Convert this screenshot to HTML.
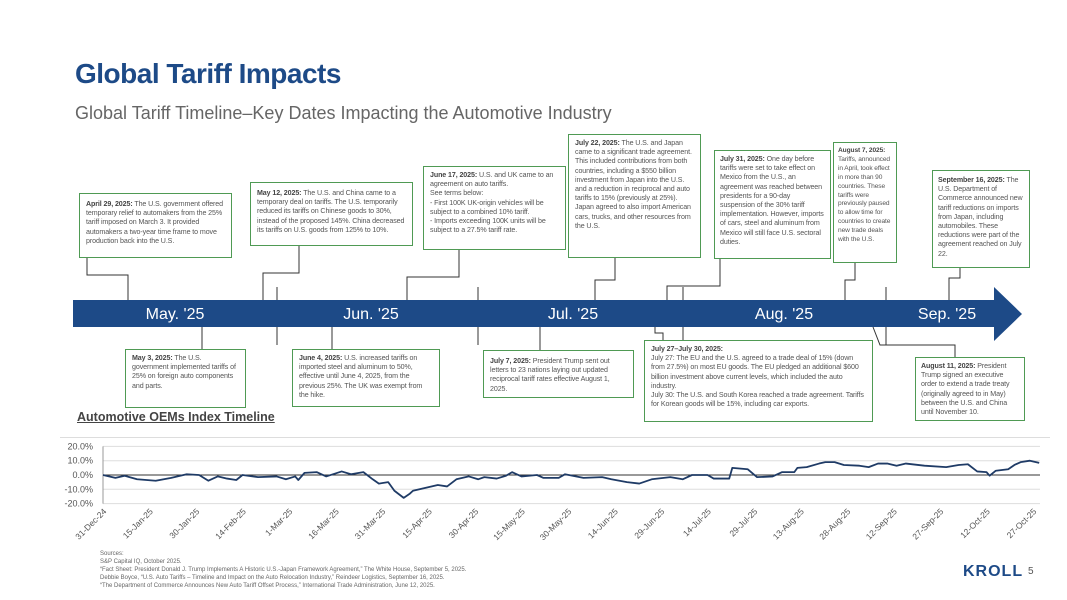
<!DOCTYPE html>
<html><head><meta charset="utf-8">
<style>
body{margin:0;width:1067px;height:600px;background:#fff;position:relative;overflow:hidden;font-family:"Liberation Sans",sans-serif;color:#555}
.abs{position:absolute}
h1{position:absolute;left:75px;top:58px;margin:0;font-size:28px;font-weight:bold;color:#1d4a87;letter-spacing:-0.5px}
.sub{left:75px;top:103px;font-size:18px;color:#666}
.box{position:absolute;border:1.3px solid #4f9a54;background:#fff;font-size:7.1px;line-height:9.2px;color:#555;padding:4px 6px;box-sizing:border-box;overflow:hidden;letter-spacing:-0.1px}
.box b{color:#444}
.src{left:100px;top:550px;font-size:6px;line-height:8px;color:#666}
</style></head><body>
<h1>Global Tariff Impacts</h1>
<div class="abs sub">Global Tariff Timeline–Key Dates Impacting the Automotive Industry</div>

<svg class="abs" style="left:0;top:0" width="1067" height="440">
<polygon points="73,300 994,300 994,287 1022,314 994,341 994,327 73,327" fill="#1d4a87"/>
<g fill="#fff" font-size="16" text-anchor="middle" font-family="Liberation Sans, sans-serif">
<text x="175" y="319">May. '25</text>
<text x="371" y="319">Jun. '25</text>
<text x="573" y="319">Jul. '25</text>
<text x="784" y="319">Aug. '25</text>
<text x="947" y="319">Sep. '25</text>
</g>
<g stroke="#333" stroke-width="1" fill="none">
<path d="M277,287V300M277,327V345M478,287V300M478,327V345M683,287V300M683,327V345M886,287V300M886,327V345"/>
<path d="M87,258V275H128V300"/>
<path d="M299,246V273H263V300"/>
<path d="M459,250V277H407V300"/>
<path d="M615,258V280H595V300"/>
<path d="M720,259V286H667V300"/>
<path d="M855,263V280H845V300"/>
<path d="M960,268V278H949V300"/>
<path d="M202,327V349"/>
<path d="M332,327V349"/>
<path d="M540,327V350"/>
<path d="M655,327V333H663V340"/>
<path d="M873,327L880,345H955V357"/>
</g>
</svg>

<div class="box" style="left:79px;top:193px;width:153px;height:65px;padding-top:6px"><b>April 29, 2025:</b> The U.S. government offered temporary relief to automakers from the 25% tariff imposed on March 3. It provided automakers a two-year time frame to move production back into the U.S.</div>
<div class="box" style="left:250px;top:182px;width:163px;height:64px;padding-top:6px"><b>May 12, 2025:</b> The U.S. and China came to a temporary deal on tariffs. The U.S. temporarily reduced its tariffs on Chinese goods to 30%, instead of the proposed 145%. China decreased its tariffs on U.S. goods from 125% to 10%.</div>
<div class="box" style="left:423px;top:166px;width:143px;height:84px"><b>June 17, 2025:</b> U.S. and UK came to an agreement on auto tariffs.<br>See terms below:<br>- First 100K UK-origin vehicles will be subject to a combined 10% tariff.<br>- Imports exceeding 100K units will be subject to a 27.5% tariff rate.</div>
<div class="box" style="left:568px;top:134px;width:133px;height:124px"><b>July 22, 2025:</b> The U.S. and Japan came to a significant trade agreement. This included contributions from both countries, including a $550 billion investment from Japan into the U.S. and a reduction in reciprocal and auto tariffs to 15% (previously at 25%). Japan agreed to also import American cars, trucks, and other resources from the U.S.</div>
<div class="box" style="left:714px;top:150px;width:117px;height:109px;padding:4px 5px"><b>July 31, 2025:</b> One day before tariffs were set to take effect on Mexico from the U.S., an agreement was reached between presidents for a 90-day suspension of the 30% tariff implementation. However, imports of cars, steel and aluminum from Mexico will still face U.S. sectoral duties.</div>
<div class="box" style="left:833px;top:142px;width:64px;height:121px;padding:4px 4px;font-size:6.6px;line-height:8.9px"><b>August 7, 2025:</b> Tariffs, announced in April, took effect in more than 90 countries. These tariffs were previously paused to allow time for countries to create new trade deals with the U.S.</div>
<div class="box" style="left:932px;top:170px;width:98px;height:98px;padding:5px 5px"><b>September 16, 2025:</b> The U.S. Department of Commerce announced new tariff reductions on imports from Japan, including automobiles. These reductions were part of the agreement reached on July 22.</div>
<div class="box" style="left:125px;top:349px;width:121px;height:59px"><b>May 3, 2025:</b> The U.S. government implemented tariffs of 25% on foreign auto components and parts.</div>
<div class="box" style="left:292px;top:349px;width:148px;height:58px"><b>June 4, 2025:</b> U.S. increased tariffs on imported steel and aluminum to 50%, effective until June 4, 2025, from the previous 25%. The UK was exempt from the hike.</div>
<div class="box" style="left:483px;top:350px;width:151px;height:48px;padding-top:6px"><b>July 7, 2025:</b> President Trump sent out letters to 23 nations laying out updated reciprocal tariff rates effective August 1, 2025.</div>
<div class="box" style="left:644px;top:340px;width:229px;height:82px"><b>July 27–July 30, 2025:</b><br>July 27: The EU and the U.S. agreed to a trade deal of 15% (down from 27.5%) on most EU goods. The EU pledged an additional $600 billion investment above current levels, which included the auto industry.<br>July 30: The U.S. and South Korea reached a trade agreement. Tariffs for Korean goods will be 15%, including car exports.</div>
<div class="box" style="left:915px;top:357px;width:110px;height:64px;padding:4px 5px"><b>August 11, 2025:</b> President Trump signed an executive order to extend a trade treaty (originally agreed to in May) between the U.S. and China until November 10.</div>

<div class="abs" style="left:77px;top:410px;font-size:12.5px;font-weight:bold;color:#444;text-decoration:underline">Automotive OEMs Index Timeline</div>
<div class="abs" style="left:60px;top:437px;width:990px;height:1px;background:#ddd"></div>

<svg id="chart" class="abs" style="left:0;top:0" width="1067" height="550"></svg>

<div class="abs src">Sources:<br>S&amp;P Capital IQ, October 2025.<br>“Fact Sheet: President Donald J. Trump Implements A Historic U.S.-Japan Framework Agreement,” The White House, September 5, 2025.<br>Debbie Boyce, “U.S. Auto Tariffs – Timeline and Impact on the Auto Relocation Industry,” Reindeer Logistics, September 16, 2025.<br>“The Department of Commerce Announces New Auto Tariff Offset Process,” International Trade Administration, June 12, 2025.</div>
<div class="abs" style="left:963px;top:563px;font-size:16px;font-weight:bold;color:#1d4a87;letter-spacing:1px">KROLL</div>
<div class="abs" style="left:1028px;top:566px;font-size:10px;color:#555">5</div>

<script>
const yTicks=[20,10,0,-10,-20];
const tickLabels=["31-Dec-24","15-Jan-25","30-Jan-25","14-Feb-25","1-Mar-25","16-Mar-25","31-Mar-25","15-Apr-25","30-Apr-25","15-May-25","30-May-25","14-Jun-25","29-Jun-25","14-Jul-25","29-Jul-25","13-Aug-25","28-Aug-25","12-Sep-25","27-Sep-25","12-Oct-25","27-Oct-25"];
const tickDays=[0,15,30,45,60,75,90,105,120,135,150,165,180,195,210,225,240,255,270,285,300];
const days=[0,4,7,11,14,17,22,27,31,34,37,40,43,45,50,56,59,62,63,65,69,72,77,80,84,87,89,92,94,97,99,100,104,108,111,114,118,121,123,127,130,132,135,140,142,147,149,155,161,164,169,173,177,183,187,190,195,197,202,203,208,211,216,219,223,224,227,231,233,236,239,244,247,250,253,256,259,265,272,276,279,282,285,286,288,292,294,296,299,302];
const values=[0,-2,-0.5,-3,-3.5,-4,-2,0.5,0,-4,-1,-2.5,-3.5,0,-1.5,-1,-3,-1,-3.5,1.5,2,-1,2.5,0.5,2,-3,-6,-5,-11,-16,-13,-11,-9,-7,-8,-3,-1,-3,-1.5,-2.5,-0.5,2,-1,0,-2,-2,0.5,-2,-1.5,-3,-5,-6,-3,-1.5,-3,0,0,-2.5,-2.5,5,4,-1.5,-1,2,2,5,5.5,8,9,9,7,6.5,5.5,8,8,6.5,8,6.5,5.5,7,7.5,2.5,2,-0.5,3,4,7,9,10,8.5];
const svg=document.getElementById('chart');const NS='http://www.w3.org/2000/svg';
const X0=103,PXD=3.1,Y0=475,PXP=1.43;
const xs=d=>X0+d*PXD, ys=v=>Y0-v*PXP;
function mk(t,a){const e=document.createElementNS(NS,t);for(const k in a)e.setAttribute(k,a[k]);svg.appendChild(e);return e;}
yTicks.forEach(v=>{
 const l=mk('line',{x1:X0,x2:1040,y1:ys(v),y2:ys(v),stroke:v===0?'#333':'#ddd','stroke-width':1});
 
 
 const t=mk('text',{x:93,y:ys(v)+3,'text-anchor':'end','font-size':9,fill:'#555','font-family':'Liberation Sans, sans-serif'});
 t.textContent=v.toFixed(1)+'%';
 
 
});
const ax=mk('line',{x1:X0,x2:X0,y1:ys(20),y2:ys(-20),stroke:'#999','stroke-width':1});


tickLabels.forEach((s,i)=>{
 const x=xs(tickDays[i])+4,y=512;
 const t=mk('text',{x:x,y:y,'text-anchor':'end','font-size':8.5,fill:'#555','font-family':'Liberation Sans, sans-serif',transform:`rotate(-45 ${x} ${y})`});
 t.textContent=s;
 
 
});
const p=mk('polyline',{points:days.map((d,i)=>xs(d)+','+ys(values[i])).join(' '),fill:'none',stroke:'#1f3b66','stroke-width':1.8,'stroke-linejoin':'round'});


</script>
</body></html>
